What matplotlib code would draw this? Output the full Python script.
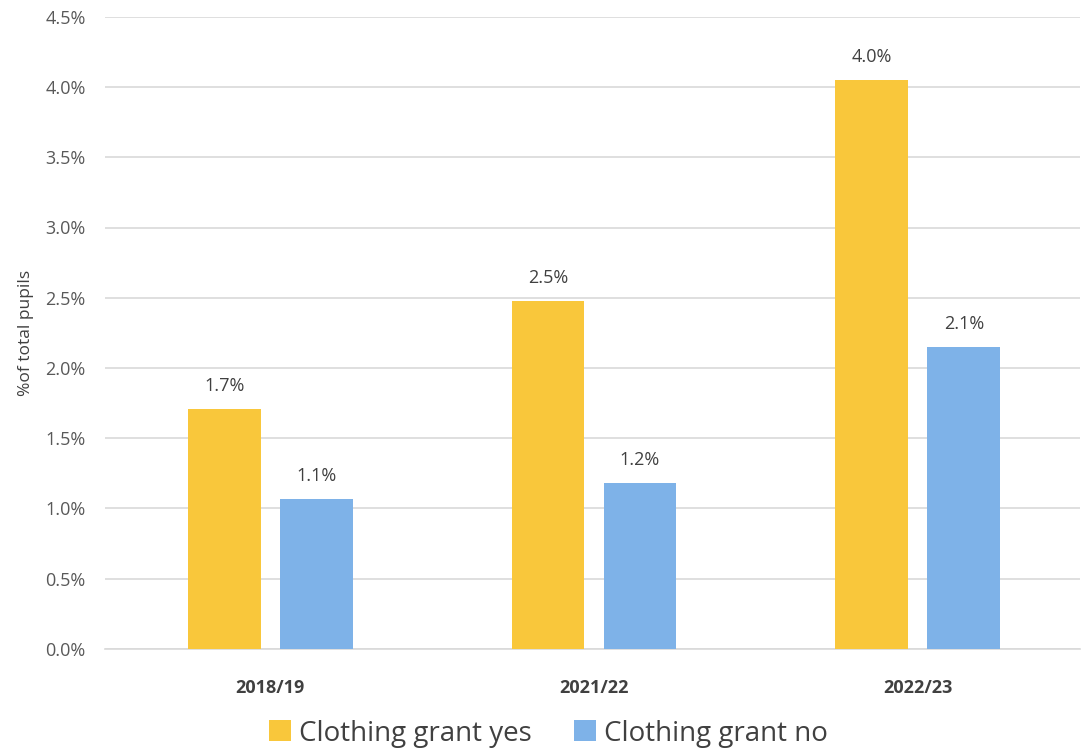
import numpy as np
import matplotlib.pyplot as plt

years = ['2018/19', '2021/22', '2022/23']
grantYes = [1.71, 2.48, 4.05]
grantNo = [1.07, 1.18, 2.15]
yesLabels = ['1.7%', '2.5%', '4.0%']
noLabels = ['1.1%', '1.2%', '2.1%']

plt.rcParams['font.family'] = ['Open Sans', 'DejaVu Sans']

fig = plt.figure(figsize=(10.84, 7.5), dpi=100)
ax = fig.add_axes([0.097, 0.135, 0.899, 0.8425])

x = np.arange(len(years))
barWidth = 0.225
offset = 0.142
yesBars = ax.bar(x - offset, grantYes, barWidth, color='#F9C73B', label='Clothing grant yes', zorder=3)
noBars = ax.bar(x + offset, grantNo, barWidth, color='#7EB2E8', label='Clothing grant no', zorder=3)

ax.bar_label(yesBars, labels=yesLabels, padding=10, fontsize=13, color='#404040')
ax.bar_label(noBars, labels=noLabels, padding=10, fontsize=13, color='#404040')

ax.set_xlim(-0.51, 2.5)
ax.set_ylim(0, 4.5)
ax.set_yticks(np.arange(0, 4.51, 0.5))
ax.set_yticklabels([f'{v:.1f}%' for v in np.arange(0, 4.51, 0.5)])
ax.set_xticks(x)
ax.set_xticklabels(years, fontweight='bold')
ax.tick_params(axis='y', length=0, labelsize=13, labelcolor='#595959', pad=14)
ax.tick_params(axis='x', length=0, labelsize=13, labelcolor='#404040', pad=22)
ax.set_ylabel('%of total pupils', fontsize=12.5, color='#404040', labelpad=8)

ax.grid(axis='y', color='#D9D9D9', linewidth=1.2, zorder=0)
for side in ['top', 'right', 'left']:
    ax.spines[side].set_visible(False)
ax.spines['bottom'].set_color('#D9D9D9')
ax.spines['bottom'].set_linewidth(1.2)

fig.legend(loc='center', bbox_to_anchor=(0.506, 0.022), ncol=2, frameon=False,
           fontsize=20, handlelength=0.8, handleheight=0.8, handletextpad=0.3,
           columnspacing=1.5, labelcolor='#404040')

fig.savefig('out.png', dpi=100)
